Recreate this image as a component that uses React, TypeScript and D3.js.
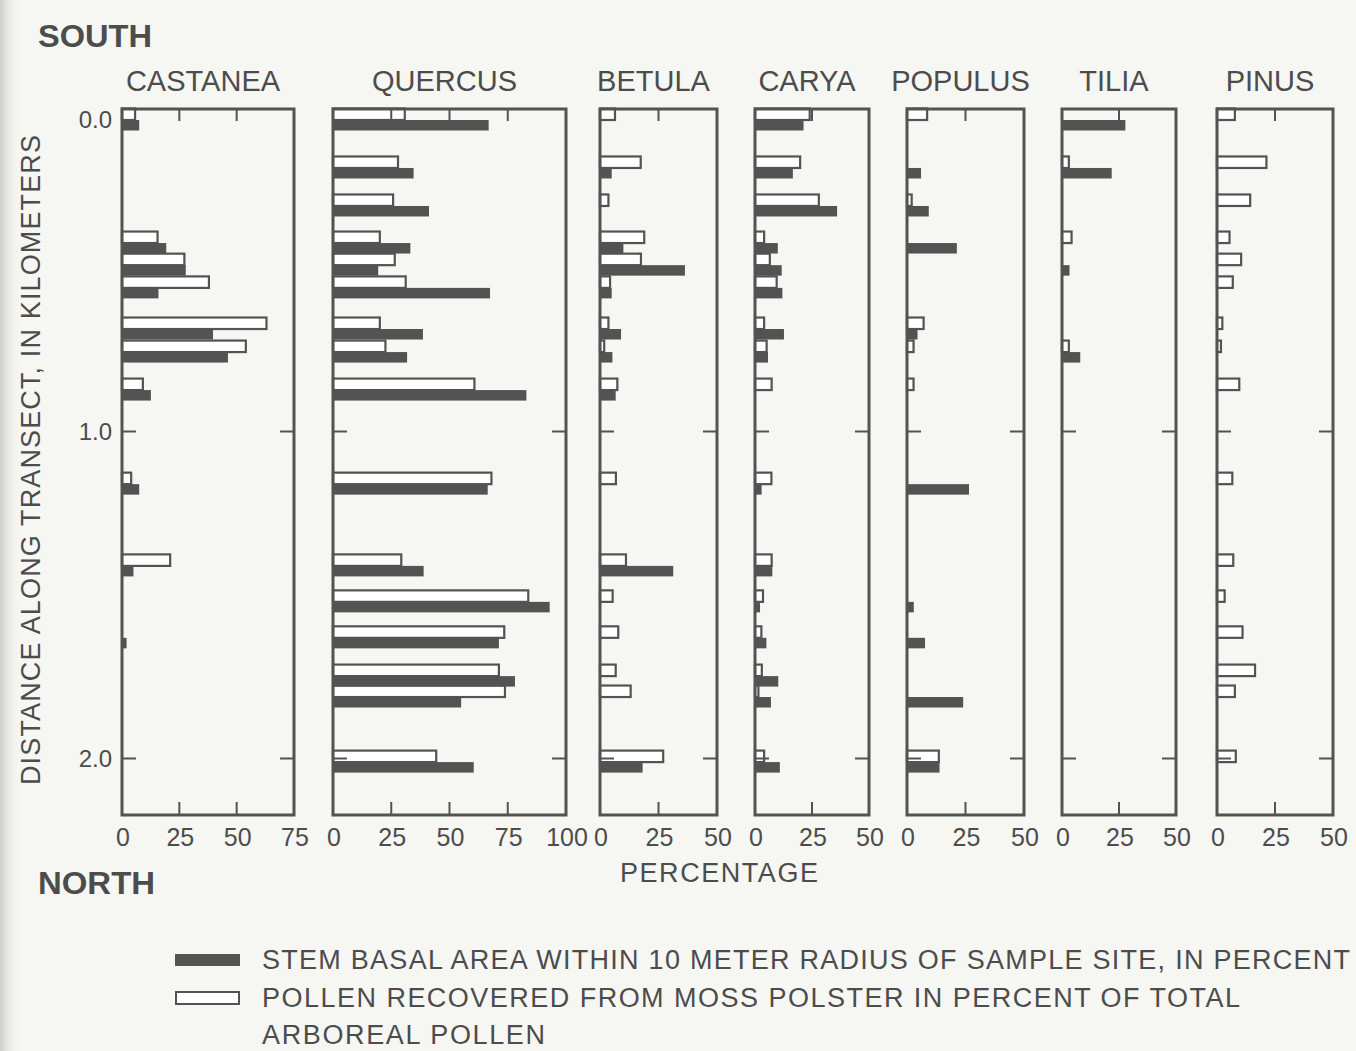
import React from "react";
import * as d3 from "d3";

// ---- Data ----
// Distance along transect (km) of each sample site (south = 0)
const siteDistances = [0.0, 0.154, 0.276, 0.395, 0.466, 0.539, 0.671, 0.745, 0.867, 1.161, 1.411, 1.521, 1.631, 1.748, 1.812, 2.011];

const genera = ["CASTANEA", "QUERCUS", "BETULA", "CARYA", "POPULUS", "TILIA", "PINUS"];
const genusMax = [75, 100, 50, 50, 50, 50, 50];

// Pollen recovered from moss polster (% of total arboreal pollen) - open bars
const castaneaPollen = [5.7, 0, 0, 15.5, 27.2, 37.9, 63, 54, 9.1, 4, 21, 0, 0, 0, 0, 0];
const quercusPollen = [30.8, 27.9, 25.8, 20.1, 26.5, 31.2, 20.1, 22.5, 60.7, 68, 29.3, 83.8, 73.5, 71.2, 73.8, 44.3];
const betulaPollen = [6.4, 17.4, 3.6, 18.9, 17.5, 4.3, 3.6, 1.8, 7.4, 6.8, 11.1, 5.4, 7.8, 6.7, 13.1, 27];
const caryaPollen = [24, 19.8, 28, 4, 6.5, 9.5, 4, 5.1, 7.3, 7.2, 7.3, 3.5, 2.8, 3, 1.5, 4];
const populusPollen = [8.6, 0, 2, 0, 0, 0, 7.1, 2.8, 2.8, 0, 0, 0, 0, 0, 0, 13.6];
const tiliaPollen = [0, 3, 0, 4.2, 0, 0, 0, 3, 0, 0, 0, 0, 0, 0, 0, 0];
const pinusPollen = [7.7, 21.3, 14.3, 5.4, 10.4, 6.8, 2.3, 1.7, 9.6, 6.6, 7, 3.3, 11, 16.4, 7.7, 8.1];

// Stem basal area within 10 m radius (%) - filled bars
const castaneaStem = [7.5, 0, 0, 19.3, 27.8, 15.9, 39.7, 46.2, 12.6, 7.5, 5, 0, 2, 0, 0, 0];
const quercusStem = [66.8, 34.6, 41.2, 33.2, 19.4, 67.4, 38.6, 31.8, 83, 66.4, 38.9, 93, 71.2, 78.1, 55, 60.4];
const betulaStem = [0, 5, 0, 10, 36.3, 5, 9, 5.3, 6.7, 0, 31.3, 0, 0, 0, 0, 18.2];
const caryaStem = [21.3, 16.6, 36, 10, 11.7, 12, 12.7, 5.7, 0, 2.9, 7.6, 2.2, 5, 10.2, 7, 10.9];
const populusStem = [0, 6, 9.3, 21.3, 0, 0, 4.5, 0, 0, 26.5, 0, 2.9, 7.7, 0, 24, 13.9];
const tiliaStem = [27.8, 21.8, 0, 0, 3.3, 0, 0, 8, 0, 0, 0, 0, 0, 0, 0, 0];
const pinusStem = [0, 0, 0, 0, 0, 0, 0, 0, 0, 0, 0, 0, 0, 0, 0, 0];

const pollenSeries = [castaneaPollen, quercusPollen, betulaPollen, caryaPollen, populusPollen, tiliaPollen, pinusPollen];
const stemSeries = [castaneaStem, quercusStem, betulaStem, caryaStem, populusStem, tiliaStem, pinusStem];

const distanceTicks = [0, 1, 2];
const percentTicks75 = [0, 25, 50, 75];
const percentTicks100 = [0, 25, 50, 75, 100];
const percentTicks50 = [0, 25, 50];

const legendStem = "STEM BASAL AREA WITHIN 10 METER RADIUS OF SAMPLE SITE, IN PERCENT";
const legendPollen1 = "POLLEN RECOVERED FROM MOSS POLSTER IN PERCENT OF TOTAL";
const legendPollen2 = "ARBOREAL POLLEN";

// ---- Layout ----
const W = 1356;
const H = 1051;
const frameTop = 109;
const frameBottom = 815;
const panelExtents: [number, number][] = [
  [122, 294],
  [333, 566],
  [600, 717],
  [755, 869],
  [907, 1024],
  [1062, 1176],
  [1217, 1333],
];

const INK = "#535353";
const TEXT = "#4c4c4c";
const FONT = "'Liberation Sans', Arial, Helvetica, sans-serif";

const yScale = d3.scaleLinear().domain([0, 1, 2]).range([120, 431.5, 758.5]);
const fmtKm = d3.format(".1f");

function tickSetFor(max: number) {
  if (max === 75) return percentTicks75;
  if (max === 100) return percentTicks100;
  return percentTicks50;
}

function Panel({ idx }: { idx: number }) {
  const [x0, x1] = panelExtents[idx];
  const max = genusMax[idx];
  const x = d3.scaleLinear().domain([0, max]).range([x0, x1]);
  const ticks = tickSetFor(max);
  const inner = ticks.filter((t) => t > 0 && t < max);
  const pollen = pollenSeries[idx];
  const stem = stemSeries[idx];
  const openH = 11.5;
  const fillH = 10.5;
  return (
    <g>
      <text x={(x0 + x1) / 2 - 5} y={91} textAnchor="middle" fontSize={29} fill={TEXT} fontFamily={FONT}>
        {genera[idx]}
      </text>
      {siteDistances.map((d, i) =>
        pollen[i] > 0 ? (
          <rect
            key={"p" + i}
            x={x(0)}
            y={yScale(d) - openH}
            width={x(pollen[i]) - x(0)}
            height={openH}
            fill="#ffffff"
            stroke={INK}
            strokeWidth={2.2}
          />
        ) : null
      )}
      {siteDistances.map((d, i) =>
        stem[i] > 0 ? (
          <rect key={"s" + i} x={x(0)} y={yScale(d)} width={x(stem[i]) - x(0)} height={fillH} fill={INK} />
        ) : null
      )}
      <rect x={x0} y={frameTop} width={x1 - x0} height={frameBottom - frameTop} fill="none" stroke={INK} strokeWidth={3} />
      {inner.map((t) => (
        <g key={"t" + t}>
          <line x1={x(t)} x2={x(t)} y1={frameTop} y2={frameTop + 12} stroke={INK} strokeWidth={2} />
          <line x1={x(t)} x2={x(t)} y1={frameBottom} y2={frameBottom - 13} stroke={INK} strokeWidth={2} />
        </g>
      ))}
      {distanceTicks
        .filter((t) => t > 0)
        .map((t) => (
          <g key={"d" + t}>
            <line x1={x0} x2={x0 + 14} y1={yScale(t)} y2={yScale(t)} stroke={INK} strokeWidth={2} />
            <line x1={x1} x2={x1 - 14} y1={yScale(t)} y2={yScale(t)} stroke={INK} strokeWidth={2} />
          </g>
        ))}
      {ticks.map((t) => (
        <text
          key={"l" + t}
          x={x(t) + 1}
          y={846}
          textAnchor="middle"
          fontSize={25}
          fill={TEXT}
          fontFamily={FONT}
        >
          {t}
        </text>
      ))}
    </g>
  );
}

export default function App() {
  return (
    <svg
      width={W}
      height={H}
      viewBox={`0 0 ${W} ${H}`}
      style={{ position: "absolute", left: 0, top: 0, display: "block" }}
    >
      <defs>
        <linearGradient id="edge" x1="0" x2="1" y1="0" y2="0">
          <stop offset="0" stopColor="#cfcfca" />
          <stop offset="1" stopColor="#f6f6f3" stopOpacity={0} />
        </linearGradient>
      </defs>
      <rect x={0} y={0} width={W} height={H} fill="#f6f6f3" />
      <rect x={0} y={0} width={22} height={H} fill="url(#edge)" />

      <text x={38} y={47} fontSize={32} fontWeight="bold" fill={TEXT} fontFamily={FONT} textLength={114} lengthAdjust="spacingAndGlyphs">
        SOUTH
      </text>
      <text x={38} y={894} fontSize={32} fontWeight="bold" fill={TEXT} fontFamily={FONT} textLength={117} lengthAdjust="spacingAndGlyphs">
        NORTH
      </text>

      {distanceTicks.map((t) => (
        <text key={t} x={112} y={yScale(t) + 8} textAnchor="end" fontSize={24} fill={TEXT} fontFamily={FONT}>
          {fmtKm(t)}
        </text>
      ))}

      <text
        transform="translate(40,460) rotate(-90)"
        textAnchor="middle"
        fontSize={27}
        fill={TEXT}
        fontFamily={FONT}
        textLength={650}
        lengthAdjust="spacing"
      >
        DISTANCE ALONG TRANSECT, IN KILOMETERS
      </text>

      {genera.map((g, i) => (
        <Panel key={g} idx={i} />
      ))}

      <text x={719} y={882} textAnchor="middle" fontSize={27} fill={TEXT} fontFamily={FONT} textLength={198} lengthAdjust="spacing">
        PERCENTAGE
      </text>

      <rect x={175} y={954} width={65} height={12} fill={INK} />
      <rect x={176} y={992} width={63} height={12} fill="#ffffff" stroke={INK} strokeWidth={2} />
      <text x={262} y={969} fontSize={27} fill={TEXT} fontFamily={FONT} textLength={1088} lengthAdjust="spacing">
        {legendStem}
      </text>
      <text x={262} y={1007} fontSize={27} fill={TEXT} fontFamily={FONT} textLength={978} lengthAdjust="spacing">
        {legendPollen1}
      </text>
      <text x={262} y={1044} fontSize={27} fill={TEXT} fontFamily={FONT} textLength={283} lengthAdjust="spacing">
        {legendPollen2}
      </text>
    </svg>
  );
}
